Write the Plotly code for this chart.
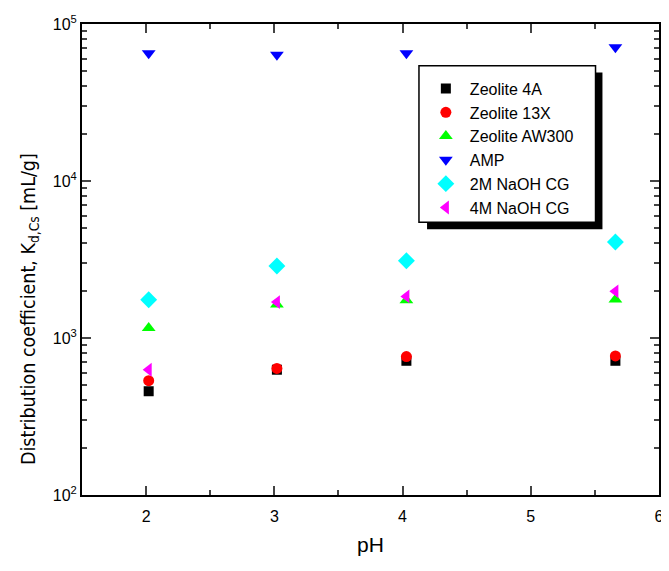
import plotly.graph_objects as go

# pH values (x positions)
ph = [2.02, 3.02, 4.03, 5.66]

# distribution coefficients Kd,Cs [mL/g]
zeolite_4a = [458, 628, 716, 716]
zeolite_13x = [535, 640, 762, 769]
zeolite_aw300 = [1160, 1637, 1738, 1762]
amp = [65000, 63700, 65000, 71100]
naoh_2m = [1754, 2877, 3105, 4090]
naoh_4m = [628, 1693, 1841, 1982]

series = [
    ("Zeolite 4A", zeolite_4a, "square", "#000000", 10),
    ("Zeolite 13X", zeolite_13x, "circle", "#ff0000", 11),
    ("Zeolite AW300", zeolite_aw300, "triangle-up", "#00ff00", 12),
    ("AMP", amp, "triangle-down", "#0000ff", 12),
    ("2M NaOH CG", naoh_2m, "diamond", "#00ffff", 13),
    ("4M NaOH CG", naoh_4m, "triangle-left", "#ff00ff", 12),
]

x_ticks = [2, 3, 4, 5, 6]
y_ticks = [1e2, 1e3, 1e4, 1e5]
y_ticktext = ["10<sup>2</sup>", "10<sup>3</sup>", "10<sup>4</sup>", "10<sup>5</sup>"]
y_minor = [m * 10 ** e for e in (2, 3, 4) for m in range(2, 10)]

fig = go.Figure()
for name, vals, sym, col, size in series:
    fig.add_trace(go.Scatter(
        x=ph, y=vals, mode="markers", name=name,
        marker=dict(symbol=sym, color=col, size=size, line=dict(width=0)),
    ))

font = "Liberation Sans, Arial, sans-serif"

# legend frame with drop shadow, drawn as shapes so the padding can match
fig.add_shape(type="rect", xref="paper", yref="paper",
              x0=0.598, x1=0.902, y0=0.564, y1=0.897,
              fillcolor="black", line=dict(width=0), layer="above")
fig.add_shape(type="rect", xref="paper", yref="paper",
              x0=0.584, x1=0.890, y0=0.579, y1=0.9116,
              fillcolor="white", line=dict(color="black", width=1.5),
              layer="above")

# y title placed by hand (sits lower than the axis centre in the original)
fig.add_annotation(
    text="Distribution coefficient, K<sub>d,Cs</sub> [mL/g]",
    xref="paper", yref="paper", x=-0.09, y=0.395, xanchor="center",
    yanchor="middle", textangle=-90, showarrow=False,
    font=dict(size=19.5, family="DejaVu Sans Condensed, Liberation Sans Narrow, sans-serif"),
)

# page body has an 8px margin, so the figure is made 8px smaller
fig.update_layout(
    width=661, height=563,
    margin=dict(l=74, r=5, t=12, b=76),
    paper_bgcolor="white", plot_bgcolor="white",
    font=dict(family=font, color="black"),
    showlegend=True,
    legend=dict(
        x=0.589, y=0.899, xanchor="left", yanchor="top",
        bgcolor="rgba(0,0,0,0)", borderwidth=0,
        font=dict(size=16, family=font), itemwidth=38,
        tracegroupgap=0,
    ),
    xaxis=dict(
        range=[1.5, 6], tickvals=x_ticks, ticks="inside", ticklen=9,
        tickwidth=1.5, showline=True, linecolor="black", linewidth=2,
        mirror="allticks", showgrid=False, zeroline=False,
        tickfont=dict(size=16), ticklabeloverflow="allow",
        ticklabelstandoff=6,
        minor=dict(tickvals=[2.5, 3.5, 4.5, 5.5], ticks="inside", ticklen=5,
                   tickwidth=1.5, showgrid=False),
        title=dict(text="pH", font=dict(size=21), standoff=13),
    ),
    yaxis=dict(
        type="log", range=[2, 5], tickvals=y_ticks, ticktext=y_ticktext,
        ticks="inside", ticklen=9, tickwidth=1.5, showline=True,
        linecolor="black", linewidth=2, mirror="allticks", showgrid=False,
        zeroline=False, tickfont=dict(size=16),
        minor=dict(tickvals=y_minor, ticks="inside", ticklen=5,
                   tickwidth=1.5, showgrid=False),
    ),
)

fig.write_html("out.html")
